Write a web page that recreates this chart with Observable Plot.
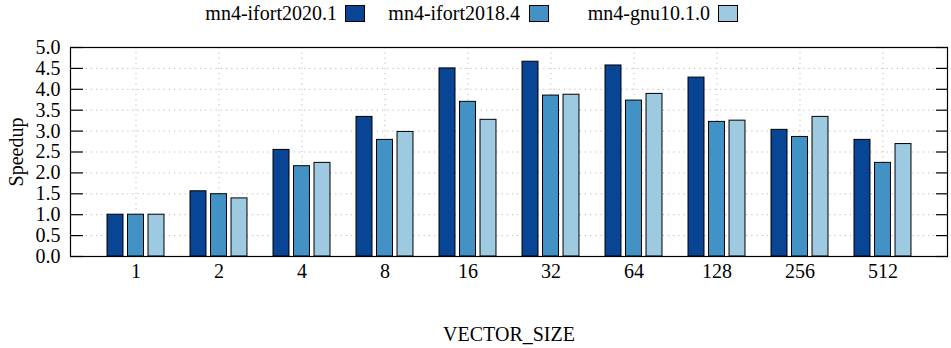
<!DOCTYPE html>
<html>
<head>
<meta charset="utf-8">
<script src="https://cdn.jsdelivr.net/npm/d3@7"></script>
<script src="https://cdn.jsdelivr.net/npm/@observablehq/plot@0.6"></script>
<style>
  body { margin: 0; background: #fff; font-family: "Liberation Serif", serif; }
  #wrap { width: 951px; position: relative; }
  #legend { position: relative; width: 951px; height: 28px; font-size: 20px; color: #000; font-family: "Liberation Serif", serif; }
  .lt { position: absolute; width: 220px; text-align: right; top: 1px; line-height: 24px; }
  .sw { position: absolute; top: 5px; width: 18px; height: 15px; border: 1px solid #000; }
</style>
</head>
<body>
<div id="wrap">
  <div id="legend"></div>
  <div id="chart"></div>
</div>
<script>
const categories = ["1", "2", "4", "8", "16", "32", "64", "128", "256", "512"];
const seriesNames = ["mn4-ifort2020.1", "mn4-ifort2018.4", "mn4-gnu10.1.0"];
const ifort2020 = [1.00, 1.56, 2.55, 3.34, 4.50, 4.66, 4.57, 4.28, 3.03, 2.79];
const ifort2018 = [1.00, 1.49, 2.16, 2.79, 3.70, 3.85, 3.73, 3.22, 2.86, 2.24];
const gnu1010   = [1.00, 1.39, 2.24, 2.98, 3.27, 3.87, 3.89, 3.25, 3.34, 2.69];
const yTicks = [0, 0.5, 1, 1.5, 2, 2.5, 3, 3.5, 4, 4.5, 5];
const colors = ["#084594", "#4292c6", "#9ecae1"];

const seriesValues = [ifort2020, ifort2018, gnu1010];

// legend
const legendPos = [{textRight: 337, sw: 345}, {textRight: 520, sw: 529}, {textRight: 710, sw: 718}];
const legend = document.getElementById("legend");
seriesNames.forEach((name, i) => {
  const t = document.createElement("div");
  t.className = "lt";
  t.textContent = name;
  t.style.left = (legendPos[i].textRight - 220) + "px";
  legend.appendChild(t);
  const s = document.createElement("div");
  s.className = "sw";
  s.style.left = legendPos[i].sw + "px";
  s.style.background = colors[i];
  legend.appendChild(s);
});

const gridStyle = {stroke: "#b8b8b8", strokeOpacity: 1, strokeDasharray: "1.2,4"};
const barW = 16.3, pitch = 20.5, step = 83.33;
const inset = (step - barW) / 2;

const barMarks = seriesValues.map((vals, i) => {
  const rows = categories.map((c, j) => ({cat: c, v: vals[j]}));
  return Plot.barY(rows, {
    x: "cat", y: "v",
    fill: colors[i], stroke: "#000", strokeWidth: 1,
    insetLeft: inset, insetRight: inset,
    dx: (i - 1) * pitch
  });
});

const chart = Plot.plot({
  width: 951,
  height: 320,
  marginLeft: 70,
  marginRight: 4,
  marginTop: 19,
  marginBottom: 92,
  style: {fontFamily: "'Liberation Serif', serif", fontSize: "20px", color: "#000", background: "#fff"},
  x: {domain: categories, paddingInner: 0, paddingOuter: 0.26},
  y: {domain: [0, 5]},
  marks: [
    Plot.ruleY(yTicks.filter(d => d > 0 && d < 5), gridStyle),
    Plot.gridX({...gridStyle}),
    ...barMarks,
    Plot.frame({stroke: "#000", strokeWidth: 1.2}),
    Plot.axisY({ticks: yTicks, tickFormat: d => d.toFixed(1), tickSize: -13, tickPadding: 23,
      label: "Speedup", labelAnchor: "center", labelOffset: 62, labelArrow: "none", strokeWidth: 1.2}),
    Plot.axisY({anchor: "right", ticks: yTicks, tickFormat: () => "", tickSize: -12, label: null, strokeWidth: 1.2}),
    Plot.axisX({tickSize: 0, tickPadding: 7, label: "VECTOR_SIZE", labelAnchor: "center", labelOffset: 84, labelArrow: "none"})
  ]
});
document.getElementById("chart").appendChild(chart);
</script>
</body>
</html>
